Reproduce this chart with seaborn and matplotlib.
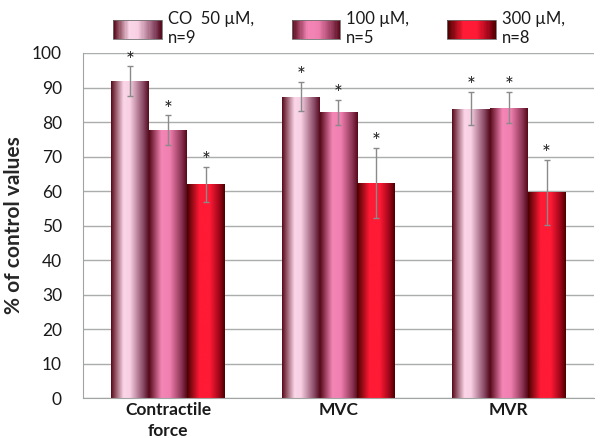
import numpy as np
import pandas as pd
import matplotlib
matplotlib.use('Agg')
import matplotlib.pyplot as plt
import seaborn as sns
from matplotlib.colors import LinearSegmentedColormap
from matplotlib.patches import Rectangle
from matplotlib.legend_handler import HandlerBase

sns.set_style('white')
plt.rcParams['font.family'] = ['Lato', 'DejaVu Sans']

# data
categories = ['Contractile\nforce', 'MVC', 'MVR']
series = ['CO  50 µM,\nn=9', '100 µM,\nn=5', '300 µM,\nn=8']
values_50 = [91.8, 87.3, 83.9]
values_100 = [77.6, 82.8, 84.2]
values_300 = [61.9, 62.4, 59.6]
err_50 = [4.3, 4.2, 4.8]
err_100 = [4.3, 3.6, 4.4]
err_300 = [5.0, 10.2, 9.5]
yticks = list(range(0, 101, 10))

# horizontal "cylinder" gradients, left edge -> right edge
grad_50 = [(0.0, '#560818'), (0.33, '#fad6e8'), (0.5, '#f8d0e3'), (0.85, '#8a4a66'), (1.0, '#540a1c')]
grad_100 = [(0.0, '#560818'), (0.33, '#f386b6'), (0.55, '#f07fb0'), (0.85, '#8e3656'), (1.0, '#560818')]
grad_300 = [(0.0, '#480000'), (0.33, '#ff1a35'), (0.6, '#ff1a35'), (0.85, '#a0061a'), (1.0, '#4c0000')]
cmaps = [LinearSegmentedColormap.from_list('g%d' % i, g) for i, g in enumerate([grad_50, grad_100, grad_300])]

df = pd.DataFrame({
    'cat': categories * 3,
    'series': [s for s in series for _ in categories],
    'val': values_50 + values_100 + values_300,
})

fig = plt.figure(figsize=(6, 4.38), dpi=100)
ax = fig.add_axes([0.138, 0.091, 0.852, 0.788])

sns.barplot(data=df, x='cat', y='val', hue='series', hue_order=series, order=categories,
            palette=['#f7cde1', '#f07fb0', '#ff1a35'], errorbar=None, width=0.664,
            gap=0, saturation=1, linewidth=0, legend=False, ax=ax)

errs = [err_50, err_100, err_300]
grad = np.linspace(0, 1, 256).reshape(1, -1)
bar_containers = list(ax.containers)
for k, cont in enumerate(bar_containers):
    xs, tops = [], []
    for bar in cont.patches:
        x, w, h = bar.get_x(), bar.get_width(), bar.get_height()
        im = ax.imshow(grad, cmap=cmaps[k], extent=[x, x + w, 0, h], aspect='auto',
                       zorder=2, interpolation='bilinear')
        im.set_clip_path(bar)
        xs.append(x + w / 2)
        tops.append(h)
    ax.errorbar(xs, tops, yerr=errs[k], fmt='none', ecolor='#8a8a8a', elinewidth=1,
                capsize=2.5, capthick=1, zorder=4)
    for xx, t, e in zip(xs, tops, errs[k]):
        ax.text(xx, t + e - 1.2, '*', ha='center', va='bottom', fontsize=15,
                color='#202020', zorder=5)

ax.set_xlim(-0.5, 2.5)
ax.set_ylim(0, 100)
ax.set_yticks(yticks)
ax.yaxis.grid(True, color='#a9adac', lw=1)
ax.set_axisbelow(True)
for s in ['top', 'right']:
    ax.spines[s].set_visible(False)
ax.spines['left'].set_color('#a0a4a3')
ax.spines['bottom'].set_color('#a0a4a3')
ax.tick_params(axis='y', length=6, color='#a0a4a3', pad=9, labelsize=12.5, labelcolor='#1a1a1a')
ax.tick_params(axis='x', length=0, pad=3)
ax.set_xticks(range(3))
ax.set_xticklabels(categories, fontsize=12.5, fontweight='bold', color='#1a1a1a', linespacing=1.35)
ax.set_xlabel('')
ax.set_ylabel('% of control values', fontsize=15, fontweight='bold', labelpad=6)


class GradientHandler(HandlerBase):
    def __init__(self, cmap):
        super().__init__()
        self.cmap = cmap

    def create_artists(self, legend, orig_handle, xdescent, ydescent, width, height, fontsize, trans):
        n = 40
        arts = []
        for i in range(n):
            arts.append(Rectangle((-xdescent + width * i / n, -ydescent), width / n * 1.1, height,
                                  facecolor=self.cmap((i + 0.5) / n), edgecolor='none', transform=trans))
        arts.append(Rectangle((-xdescent, -ydescent), width, height, facecolor='none',
                              edgecolor='#6f6f6f', lw=0.6, transform=trans))
        return arts


handles = [Rectangle((0, 0), 1, 1) for _ in series]
leg = fig.legend(handles, series, handler_map={h: GradientHandler(c) for h, c in zip(handles, cmaps)},
                 loc='center', bbox_to_anchor=(0.565, 0.935), ncol=3, frameon=False, fontsize=12,
                 handlelength=2.9, handleheight=1.35, handletextpad=0.35, columnspacing=2.3,
                 labelspacing=0.2)
for t in leg.get_texts():
    t.set_multialignment('left')
    t.set_color('#1a1a1a')

fig.savefig('out.png', dpi=100)
